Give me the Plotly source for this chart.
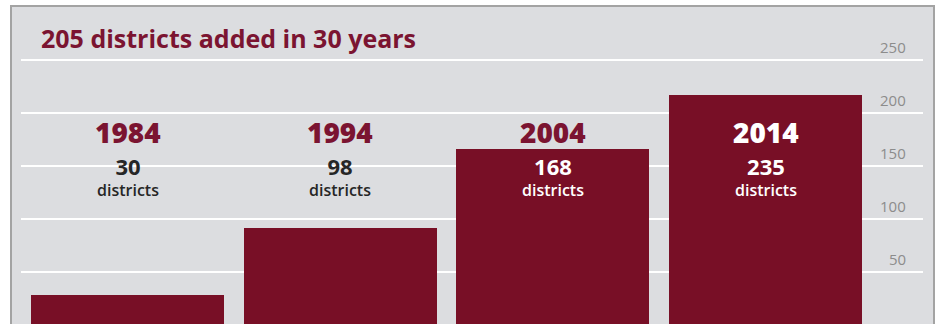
import plotly.graph_objects as go

years = ["1984", "1994", "2004", "2014"]
bar_heights = [28, 92, 166, 217]          # drawn bar heights (as in the graphic)
district_counts = [30, 98, 168, 235]      # labelled values
tick_values = [50, 100, 150, 200, 250]
title_text = "205 districts added in 30 years"

BAR = "#780f26"
TITLE = "#7b1431"
DARK = "#262626"
WHITE = "#ffffff"
FONT = "Open Sans"

fig = go.Figure()
fig.add_trace(go.Bar(x=list(range(len(years))), y=bar_heights, width=0.907,
                     marker=dict(color=BAR, line=dict(width=0)), hoverinfo="skip"))

shapes = []
for v in tick_values:
    shapes.append(dict(type="line", xref="paper", yref="y", x0=(21 - 12) / 921, x1=(923 - 12) / 921,
                       y0=v, y1=v, line=dict(color="white", width=2), layer="below"))

ann = []
ann.append(dict(text=title_text, xref="paper", yref="paper", x=(39 - 12) / 921, y=0.902,
                xanchor="left", yanchor="middle", showarrow=False,
                font=dict(family=FONT, size=25, color=TITLE, weight=700)))
for v in tick_values:
    ann.append(dict(text=str(v), xref="paper", yref="y", x=(908 - 12) / 921, y=v,
                    xanchor="right", yanchor="bottom", yshift=1, showarrow=False,
                    font=dict(family=FONT, size=15, color="#8c8c8c")))

year_cols = [TITLE, TITLE, TITLE, WHITE]
num_cols = [DARK, DARK, WHITE, WHITE]
for i, (yr, n) in enumerate(zip(years, district_counts)):
    ann.append(dict(text=yr, xref="x", yref="paper", x=i, y=0.606, xanchor="center", yanchor="middle",
                    showarrow=False, font=dict(family=FONT, size=28, color=year_cols[i], weight=800)))
    ann.append(dict(text=f"<span style='font-size:22px;font-weight:700'>{n}</span><br>districts",
                    xref="x", yref="paper", x=i, y=0.466, xanchor="center", yanchor="middle",
                    showarrow=False, font=dict(family=FONT, size=16, color=num_cols[i], weight=600)))

fig.update_layout(
    width=937, height=324,
    margin=dict(l=12, r=4, t=7, b=0),
    paper_bgcolor="white", plot_bgcolor="#dcdde0",
    showlegend=False, bargap=0,
    shapes=shapes, annotations=ann,
    xaxis=dict(range=[-0.543, 3.787], showgrid=False, zeroline=False, showticklabels=False,
               ticks="", showline=True, side="top", linecolor="#a3a3a3", linewidth=1.5, fixedrange=True),
    yaxis=dict(range=[1, 300], showgrid=False, zeroline=False, showticklabels=False, ticks="",
               showline=True, mirror=True, linecolor="#a3a3a3", linewidth=1.5, fixedrange=True),
)
fig.write_html("out.html")
